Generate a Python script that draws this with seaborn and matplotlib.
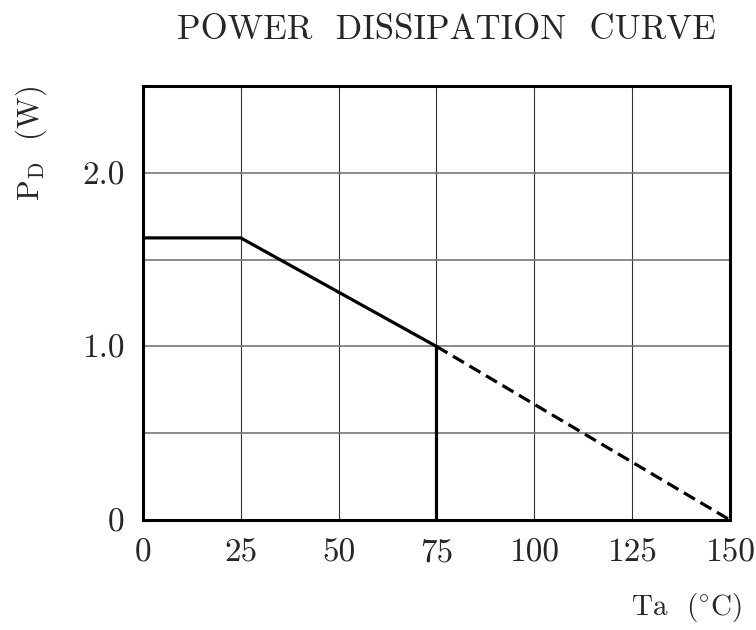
import numpy as np
import pandas as pd
import matplotlib
matplotlib.use("Agg")
import matplotlib.pyplot as plt
import seaborn as sns

# derating curve
ta_solid = [0, 25, 75]
pd_solid = [1.625, 1.625, 1.0]
ta_dash = [75, 150]
pd_dash = [1.0, 0.0]
ta_drop = [75, 75]
pd_drop = [0.0, 1.0]

x_ticks = [0, 25, 50, 75, 100, 125, 150]
y_grid = [0, 0.5, 1.0, 1.5, 2.0, 2.5]
y_ticks = [0, 1.0, 2.0]
y_ticklabels = ["0", "1.0", "2.0"]

sns.set_style("white")
plt.rcParams["font.family"] = ["cmr10", "DejaVu Serif"]
plt.rcParams["mathtext.fontset"] = "cm"
plt.rcParams["axes.formatter.use_mathtext"] = True

fig = plt.figure(figsize=(7.56, 6.3), dpi=100)
ax = fig.add_axes([0.189, 0.1746, 0.7766, 0.6889])

solid = pd.DataFrame({"Ta": ta_solid, "PD": pd_solid})
dash = pd.DataFrame({"Ta": ta_dash, "PD": pd_dash})
drop = pd.DataFrame({"Ta": ta_drop, "PD": pd_drop})

sns.lineplot(data=solid, x="Ta", y="PD", ax=ax, color="black", lw=2.3,
             sort=False, estimator=None, zorder=5)
sns.lineplot(data=dash, x="Ta", y="PD", ax=ax, color="black", lw=2.3,
             sort=False, estimator=None, zorder=5)
ax.lines[-1].set_dashes([4, 2])
sns.lineplot(data=drop, x="Ta", y="PD", ax=ax, color="black", lw=2.3,
             sort=False, estimator=None, zorder=5)

# grid
for xv in x_ticks[1:-1]:
    ax.axvline(xv, color="#333333", lw=0.8, zorder=1)
for yv in y_grid[1:-1]:
    ax.axhline(yv, color="#777777", lw=1.2, zorder=1)

ax.set_xlim(0, 150)
ax.set_ylim(0, 2.5)
ax.set_xticks(x_ticks)
ax.set_xticklabels([str(v) for v in x_ticks])
ax.set_yticks(y_ticks)
ax.set_yticklabels(y_ticklabels)
ax.tick_params(length=0, labelsize=24, pad=13)
for s in ax.spines.values():
    s.set_linewidth(2.2)
    s.set_color("black")

ax.set_xlabel("")
ax.set_ylabel("")
fig.text(0.982, 0.01, r"Ta  ($^{\circ}$C)", ha="right", va="bottom", fontsize=21)
fig.text(0.042, 0.772, r"$\mathrm{P}_{\mathrm{D}}$  (W)", rotation=90,
         ha="center", va="center", fontsize=22)
fig.text(0.59, 0.952, "POWER  DISSIPATION  CURVE", ha="center", va="center", fontsize=25)

fig.savefig("out.png", dpi=100)
